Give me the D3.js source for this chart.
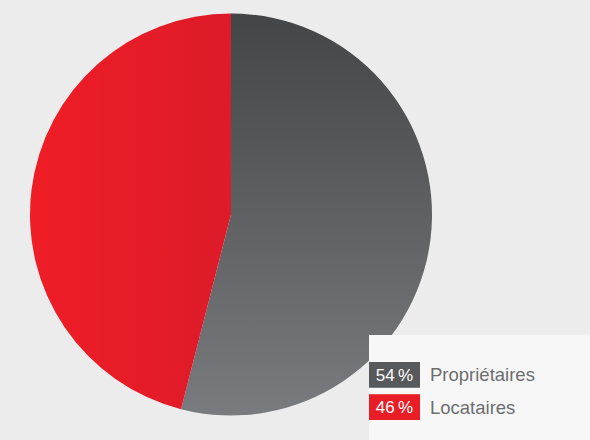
<!DOCTYPE html>
<html>
<head>
<meta charset="utf-8">
<script src="https://cdn.jsdelivr.net/npm/d3@7"></script>
<style>
  body { margin: 0; background: #ececec; }
  svg { display: block; }
  text { font-family: "Liberation Sans", Arial, sans-serif; }
</style>
</head>
<body>
<svg width="590" height="440"></svg>
<script>
const categories = ['Propriétaires', 'Locataires'];
const values = [54, 46];
const valueLabels = ['54\u2009%', '46\u2009%'];

const width = 590, height = 440;
const cx = 231, cy = 214.5, radius = 201;

const svg = d3.select('svg');
const defs = svg.append('defs');

// gray slice: dark top -> lighter bottom
const gGray = defs.append('linearGradient')
    .attr('id', 'gradGray')
    .attr('gradientUnits', 'userSpaceOnUse')
    .attr('x1', 0).attr('y1', -radius)
    .attr('x2', 0).attr('y2', radius);
gGray.append('stop').attr('offset', '0%').attr('stop-color', '#444547');
gGray.append('stop').attr('offset', '100%').attr('stop-color', '#7a7b7e');

// red slice: bright left -> slightly darker right
const gRed = defs.append('linearGradient')
    .attr('id', 'gradRed')
    .attr('gradientUnits', 'userSpaceOnUse')
    .attr('x1', -radius).attr('y1', 0)
    .attr('x2', 0).attr('y2', 0);
gRed.append('stop').attr('offset', '0%').attr('stop-color', '#ef1d26');
gRed.append('stop').attr('offset', '100%').attr('stop-color', '#dd1b29');

const fills = ['url(#gradGray)', 'url(#gradRed)'];
const swatch = ['#58595b', '#e81d25'];

const pie = d3.pie().sort(null).value(d => d);
const arc = d3.arc().innerRadius(0).outerRadius(radius);

const chart = svg.append('g')
    .attr('transform', `translate(${cx}, ${cy})`);

chart.selectAll('path')
    .data(pie(values))
    .enter()
    .append('path')
    .attr('d', arc)
    .attr('fill', (d, i) => fills[i]);

// legend panel
const legend = svg.append('g');
legend.append('rect')
    .attr('x', 369).attr('y', 335)
    .attr('width', width - 369).attr('height', height - 335)
    .attr('fill', '#f7f7f7');

const rowY = d3.scaleBand()
    .domain(categories)
    .range([362, 420])
    .paddingInner(0.2);

const bh = rowY.bandwidth();

const rows = legend.selectAll('g.row')
    .data(categories)
    .enter()
    .append('g')
    .attr('class', 'row')
    .attr('transform', d => `translate(369, ${rowY(d)})`);

rows.append('rect')
    .attr('width', 51)
    .attr('height', bh)
    .attr('fill', (d, i) => swatch[i]);

rows.append('text')
    .attr('x', 25.5)
    .attr('y', bh / 2 + 6)
    .attr('text-anchor', 'middle')
    .attr('fill', '#fff')
    .style('font-size', '17px')
    .text((d, i) => valueLabels[i]);

rows.append('text')
    .attr('x', 61)
    .attr('y', bh / 2 + 6.5)
    .attr('fill', '#6d6e70')
    .style('font-size', '18.5px')
    .text(d => d);
</script>
</body>
</html>
